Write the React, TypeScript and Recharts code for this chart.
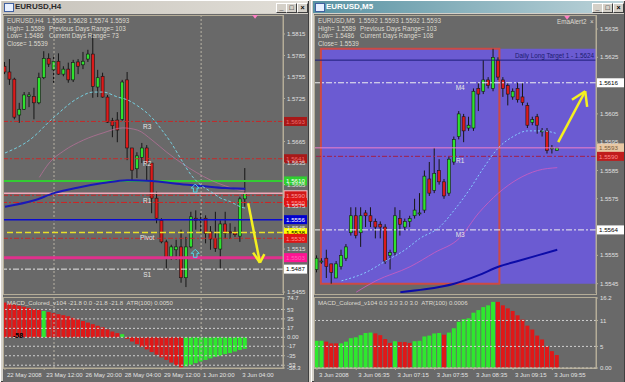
import React from "react";
import {
  ComposedChart,
  Bar,
  Line,
  XAxis,
  YAxis,
  ReferenceLine,
  ReferenceArea,
  ReferenceDot,
  Cell,
} from "recharts";

const FONT = "'Liberation Sans', Arial, sans-serif";
const BG = "#696969";
const FRAME = "#b5ad98";

// ---- EURUSD H4 ----
const h4Open = [1.5770, 1.5762, 1.5752, 1.5702, 1.5710, 1.5728, 1.5728, 1.5719, 1.5754, 1.5781,
  1.5765, 1.5777, 1.5759, 1.5766, 1.5751, 1.5776, 1.5772, 1.5780, 1.5787, 1.5741,
  1.5756, 1.5727, 1.5694, 1.5695, 1.5696, 1.5751, 1.5656, 1.5627, 1.5643, 1.5656,
  1.5635, 1.5586, 1.5555, 1.5525, 1.5504, 1.5514, 1.5518, 1.5475, 1.5518, 1.5558,
  1.5555, 1.5558, 1.5539, 1.5530, 1.5515, 1.5550, 1.5539, 1.5539, 1.5533, 1.5585];
const h4High = [1.5776, 1.5780, 1.5754, 1.5719, 1.5734, 1.5734, 1.5740, 1.5761, 1.5791, 1.5788,
  1.5786, 1.5788, 1.5770, 1.5775, 1.5779, 1.5780, 1.5790, 1.5793, 1.5814, 1.5765,
  1.5761, 1.5730, 1.5698, 1.5706, 1.5751, 1.5762, 1.5656, 1.5650, 1.5663, 1.5660,
  1.5635, 1.5595, 1.5558, 1.5528, 1.5521, 1.5528, 1.5542, 1.5532, 1.5567, 1.5569,
  1.5565, 1.5562, 1.5547, 1.5567, 1.5555, 1.5567, 1.5551, 1.5546, 1.5588, 1.5628];
const h4Low = [1.5759, 1.5744, 1.5696, 1.5691, 1.5709, 1.5713, 1.5696, 1.5717, 1.5752, 1.5769,
  1.5747, 1.5758, 1.5756, 1.5747, 1.5748, 1.5759, 1.5766, 1.5776, 1.5726, 1.5727,
  1.5726, 1.5691, 1.5671, 1.5664, 1.5694, 1.5639, 1.5611, 1.5614, 1.5635, 1.5611,
  1.5565, 1.5551, 1.5523, 1.5486, 1.5500, 1.5500, 1.5468, 1.5462, 1.5516, 1.5542,
  1.5537, 1.5523, 1.5514, 1.5511, 1.5486, 1.5530, 1.5529, 1.5532, 1.5525, 1.5574];
const h4Close = [1.5762, 1.5752, 1.5699, 1.5710, 1.5730, 1.5730, 1.5719, 1.5754, 1.5781, 1.5773,
  1.5777, 1.5759, 1.5766, 1.5751, 1.5775, 1.5770, 1.5777, 1.5787, 1.5742, 1.5754,
  1.5727, 1.5692, 1.5687, 1.5681, 1.5748, 1.5656, 1.5625, 1.5645, 1.5656, 1.5635,
  1.5586, 1.5558, 1.5525, 1.5503, 1.5518, 1.5518, 1.5475, 1.5518, 1.5560, 1.5555,
  1.5556, 1.5537, 1.5529, 1.5516, 1.5550, 1.5537, 1.5538, 1.5535, 1.5585, 1.5593];
const h4Macd = [66, 64, 62, 60, 58, 56, 54, 52, 50, 48,
  46, 44, 42, 40, 37, 34, 31, 28, 25, 22,
  19, 15, 11, 8, 6, -3, -8, -13, -18, -23,
  -28, -33, -38, -43, -48, -53, -58, -55, -52, -49,
  -46, -43, -40, -37, -35, -32, -30, -27, -24, -21.8];
const h4MacdUp = [0, 0, 0, 0, 0, 0, 0, 0, 1, 0, 0, 0, 0, 0, 0, 0, 0, 0, 0, 0, 0, 0, 0, 0, 1,
  0, 0, 0, 0, 0, 0, 0, 0, 0, 0, 0, 0, 1, 1, 1, 1, 1, 1, 1, 1, 1, 1, 1, 1, 1];
const h4FastIdx = [0, 5, 10, 15, 18, 20, 23, 25, 27, 30, 32, 34, 36, 38, 40, 42, 44, 46, 48, 49];
const h4Fast = [1.5649, 1.5667, 1.5699, 1.5726, 1.5734, 1.5734, 1.5727, 1.5723, 1.5715, 1.5698,
  1.5681, 1.5662, 1.5639, 1.5618, 1.5604, 1.5595, 1.5586, 1.5581, 1.5574, 1.5572];
const h4MidIdx = [7, 9, 12, 16, 20, 24, 27, 30, 33, 36, 39, 42, 45, 48, 49];
const h4Mid = [1.5615, 1.5635, 1.5652, 1.5667, 1.5677, 1.5684, 1.5681, 1.5667, 1.5650, 1.5635,
  1.5622, 1.5611, 1.5603, 1.5597, 1.5596];
const h4SlowIdx = [0, 6, 10, 15, 20, 25, 30, 35, 40, 45, 49];
const h4Slow = [1.5574, 1.5583, 1.5593, 1.5601, 1.5607, 1.5611, 1.5610, 1.5606, 1.5603, 1.5600, 1.5599];
const h4LevelPrices = [1.5693, 1.5641, 1.5610, 1.5593, 1.5590, 1.5580, 1.5556, 1.5538, 1.5530, 1.5503, 1.5487];
const h4PivotNames = ["R3", "R2", "R1", "Pivot", "S1"];
const h4PivotPrices = [1.5693, 1.5641, 1.5590, 1.5538, 1.5487];
const h4PriceTicks = [1.5455, 1.5515, 1.5545, 1.5575, 1.5605, 1.5635, 1.5665, 1.5725, 1.5755, 1.5785, 1.5815];
const h4MacdTicks = [74.7, 53, 35, 17, 0, -17, -35, -53, -58.3];
const h4MacdLevels = [53, 35, 17, 0, -17, -35, -53];
const h4TimeIdx = [0, 8, 16, 24, 32, 40, 48];
const h4TimeLabels = ["22 May 2008", "23 May 12:00", "26 May 20:00", "28 May 04:00", "29 May 12:00", "1 Jun 20:00", "3 Jun 04:00"];
const h4Separators = [10, 40];

// ---- EURUSD M5 ----
const m5Open = [1.5550, 1.5553, 1.5554, 1.5552, 1.5547, 1.5551, 1.5554, 1.5563, 1.5569, 1.5563,
  1.5570, 1.5569, 1.5567, 1.5566, 1.5565, 1.5555, 1.5556, 1.5568, 1.5565, 1.5567,
  1.5569, 1.5570, 1.5571, 1.5582, 1.5578, 1.5585, 1.5581, 1.5577, 1.5588, 1.5597,
  1.5604, 1.5600, 1.5600, 1.5614, 1.5613, 1.5617, 1.5614, 1.5624, 1.5617, 1.5615,
  1.5611, 1.5614, 1.5611, 1.5608, 1.5602, 1.5604, 1.5599, 1.5599, 1.5593, 1.5592];
const m5High = [1.5555, 1.5554, 1.5557, 1.5552, 1.5553, 1.5557, 1.5559, 1.5572, 1.5572, 1.5572,
  1.5571, 1.5572, 1.5568, 1.5567, 1.5566, 1.5557, 1.5572, 1.5571, 1.5568, 1.5569,
  1.5575, 1.5577, 1.5585, 1.5588, 1.5593, 1.5589, 1.5582, 1.5590, 1.5597, 1.5606,
  1.5605, 1.5604, 1.5614, 1.5616, 1.5624, 1.5618, 1.5628, 1.5625, 1.5618, 1.5616,
  1.5614, 1.5616, 1.5616, 1.5609, 1.5604, 1.5605, 1.5600, 1.5600, 1.5594, 1.5593];
const m5Low = [1.5549, 1.5552, 1.5547, 1.5545, 1.5547, 1.5550, 1.5553, 1.5562, 1.5561, 1.5558,
  1.5565, 1.5565, 1.5561, 1.5561, 1.5552, 1.5550, 1.5555, 1.5562, 1.5564, 1.5565,
  1.5568, 1.5569, 1.5570, 1.5576, 1.5577, 1.5580, 1.5575, 1.5576, 1.5587, 1.5596,
  1.5595, 1.5599, 1.5599, 1.5606, 1.5612, 1.5614, 1.5613, 1.5617, 1.5611, 1.5608,
  1.5610, 1.5609, 1.5608, 1.5600, 1.5601, 1.5598, 1.5597, 1.5591, 1.5591, 1.5592];
const m5Close = [1.5554, 1.5553, 1.5551, 1.5549, 1.5552, 1.5555, 1.5558, 1.5569, 1.5562, 1.5569,
  1.5569, 1.5567, 1.5565, 1.5565, 1.5553, 1.5556, 1.5569, 1.5566, 1.5567, 1.5568,
  1.5571, 1.5570, 1.5583, 1.5577, 1.5584, 1.5581, 1.5576, 1.5589, 1.5596, 1.5605,
  1.5599, 1.5601, 1.5613, 1.5612, 1.5617, 1.5615, 1.5625, 1.5618, 1.5614, 1.5612,
  1.5613, 1.5610, 1.5609, 1.5601, 1.5603, 1.5601, 1.5599, 1.5592, 1.5593, 1.5593];
const m5Macd = [6.3, 6.3, 6.1, 5.7, 5.7, 5.7, 6.1, 6.9, 7.1, 7.6,
  8.1, 8.2, 8.0, 7.6, 6.7, 5.8, 6.2, 6.0, 6.0, 5.8,
  6.2, 6.3, 7.3, 7.5, 8.0, 8.1, 7.7, 8.2, 9.2, 10.7,
  11.3, 11.5, 12.8, 13.4, 14.1, 14.5, 15.3, 15.3, 14.5, 13.8,
  13.2, 12.2, 11.2, 9.8, 8.9, 7.5, 6.6, 5.0, 3.9, 3.0];
const m5MacdUp = [1, 1, 0, 0, 0, 1, 1, 1, 1, 1, 1, 1, 0, 0, 0, 0, 1, 0, 0, 0, 1, 1, 1, 1, 1,
  1, 0, 1, 1, 1, 1, 1, 1, 1, 1, 1, 1, 0, 0, 0, 0, 0, 0, 0, 0, 0, 0, 0, 0, 0];
const m5FastIdx = [5, 10, 14, 18, 21, 25, 28, 31, 34, 37, 40, 43, 46, 49];
const m5Fast = [1.5546, 1.5549, 1.5553, 1.5557, 1.5561, 1.5565, 1.5571, 1.5578, 1.5586, 1.5593,
  1.5597, 1.5599, 1.5599, 1.5598];
const m5MidIdx = [8, 12, 19, 24, 29, 33, 37, 41, 45, 49];
const m5Mid = [1.5542, 1.5546, 1.5551, 1.5556, 1.5561, 1.5570, 1.5577, 1.5582, 1.5585, 1.5586];
const m5SlowIdx = [17, 22, 28, 33, 37, 41, 45, 49];
const m5Slow = [1.5542, 1.5543, 1.5545, 1.5548, 1.5551, 1.5553, 1.5555, 1.5557];
const m5LevelPrices = [1.5624, 1.5616, 1.5593, 1.5590, 1.5564];
const m5LevelNames = ["", "M4", "", "R1", "M3"];
const m5PriceTicks = [1.5545, 1.5555, 1.5575, 1.5585, 1.5595, 1.5605, 1.5625, 1.5635];
const m5MacdTicks = [16.2, 11, 5, 0];
const m5MacdLevels = [11, 5, 0];
const m5TimeIdx = [0, 8, 16, 24, 32, 40, 48];
const m5TimeLabels = ["3 Jun 2008", "3 Jun 06:35", "3 Jun 07:15", "3 Jun 07:55", "3 Jun 08:35", "3 Jun 09:15", "3 Jun 09:55"];

function buildRows(
  o: number[], h: number[], l: number[], c: number[], macd: number[], up: number[],
  fi: number[], f: number[], mi: number[], m: number[], si: number[], s: number[],
) {
  const rows: any[] = o.map((v, i) => ({
    i, o: v, h: h[i], l: l[i], c: c[i], range: [l[i], h[i]], macd: macd[i], up: up[i] === 1,
    fast: null, mid: null, slow: null,
  }));
  fi.forEach((k, j) => (rows[k].fast = f[j]));
  mi.forEach((k, j) => (rows[k].mid = m[j]));
  si.forEach((k, j) => (rows[k].slow = s[j]));
  return rows;
}

const h4Rows = buildRows(h4Open, h4High, h4Low, h4Close, h4Macd, h4MacdUp, h4FastIdx, h4Fast, h4MidIdx, h4Mid, h4SlowIdx, h4Slow);
const m5Rows = buildRows(m5Open, m5High, m5Low, m5Close, m5Macd, m5MacdUp, m5FastIdx, m5Fast, m5MidIdx, m5Mid, m5SlowIdx, m5Slow);

function Candle(props: any) {
  const { x, y, width, height, payload } = props;
  if (!payload || x == null || y == null) return null;
  const top = Math.min(y, y + height);
  const bot = Math.max(y, y + height);
  const span = payload.h - payload.l;
  const at = (v: number) => (span > 0 ? top + ((payload.h - v) / span) * (bot - top) : top);
  const cx = x + width / 2;
  const up = payload.c >= payload.o;
  const bt = at(Math.max(payload.o, payload.c));
  const bb = at(Math.min(payload.o, payload.c));
  return (
    <g>
      <line x1={cx} x2={cx} y1={top} y2={bot} stroke="#161616" strokeWidth={1} />
      <rect x={cx - 1.5} y={bt} width={3} height={Math.max(bb - bt, 1)}
        fill={up ? "#2ee22e" : "#dc1a1a"} stroke="#161616" strokeWidth={0.6} />
    </g>
  );
}

function tagLabel(text: string, bg: string, fg: string, w: number, border = "none") {
  return (p: any) => {
    const vb = p.viewBox ?? {};
    const x = (vb.x ?? 0) + (vb.width ?? 0) + 1;
    const y = vb.y ?? 0;
    return (
      <g>
        <rect x={x} y={y - 4.5} width={w} height={9} fill={bg} stroke={border} strokeWidth={1} />
        <text x={x + 2} y={y + 2.3} fontSize={6.2} fontFamily={FONT} fill={fg}>{text}</text>
      </g>
    );
  };
}

const textMark = (text: string, dy: number, color = "#e6e6e6") => (p: any) => (
  <text x={p.cx} y={p.cy + dy} fontSize={6.5} fontFamily={FONT} fill={color} textAnchor="middle">{text}</text>
);

const upArrow = (p: any) => (
  <path
    d={`M${p.cx},${p.cy - 4} L${p.cx + 4},${p.cy} L${p.cx + 1.8},${p.cy} L${p.cx + 1.8},${p.cy + 4} L${p.cx - 1.8},${p.cy + 4} L${p.cx - 1.8},${p.cy} L${p.cx - 4},${p.cy} Z`}
    fill="none" stroke="#4fd6e6" strokeWidth={1}
  />
);

const pinkMarker = (p: any) => (
  <path d={`M${p.cx - 3},${p.cy - 2} L${p.cx + 3},${p.cy - 2} L${p.cx},${p.cy + 2} Z`} fill="#ff7fc4" />
);

function timeTick(idx: number[], labels: string[]) {
  return (p: any) => {
    const k = idx.indexOf(p.payload?.value);
    return (
      <text x={p.x + 2} y={p.y + 5} fontSize={6} fontFamily={FONT} fill="#e2e2e2" textAnchor="start">
        {k >= 0 ? labels[k] : ""}
      </text>
    );
  };
}

const axisTick = { fontSize: 6, fill: "#e0e0e0", fontFamily: FONT };

function Window({ left, width, title, active }: { left: number; width: number; title: string; active: boolean }) {
  const btn = (x: number, g: string) => (
    <div style={{
      position: "absolute", left: x, top: 2, width: 9, height: 8, background: "#d4d0c8",
      border: "1px solid", borderColor: "#fff #404040 #404040 #fff", fontSize: 7, lineHeight: "8px",
      textAlign: "center", fontWeight: "bold", color: "#000",
    }}>{g}</div>
  );
  return (
    <div style={{
      position: "absolute", left, top: 0, width, height: 382, background: "#d4d0c8",
      boxShadow: "inset 1px 1px #ffffff, inset -1px -1px #404040",
    }}>
      <div style={{
        position: "absolute", left: 2, top: 1, width: width - 4, height: 12,
        background: active ? "linear-gradient(90deg,#5a93a3,#bcd3d9)" : "linear-gradient(90deg,#c6c2ba,#e2dfd8)",
      }}>
        <div style={{ position: "absolute", left: 2, top: 2, width: 8, height: 7, background: "#e8f0ff", border: "1px solid #4060a0" }} />
        <span style={{
          position: "absolute", left: 13, top: 0, fontSize: 8, lineHeight: "12px", fontWeight: "bold",
          color: active ? "#ffffff" : "#2a2a2a",
        }}>{title}</span>
        {btn(width - 35, "_")}
        {btn(width - 25, "□")}
        {btn(width - 14, "×")}
      </div>
      <div style={{ position: "absolute", left: 3, top: 14, width: width - 4, height: 368, background: BG }} />
    </div>
  );
}

function Header({ left, sym, ohlc, range }: { left: number; sym: string; ohlc: string; range: string }) {
  const s: React.CSSProperties = { position: "absolute", fontSize: 6.3, color: "#dedad0", whiteSpace: "nowrap" };
  return (
    <>
      <span style={{ ...s, left, top: 17 }}>{sym}&nbsp;&nbsp;{ohlc}</span>
      <span style={{ ...s, left, top: 24.5 }}>High= 1.5589</span>
      <span style={{ ...s, left: left + 42, top: 24.5 }}>Previous Days Range= 103</span>
      <span style={{ ...s, left, top: 32 }}>Low= 1.5486</span>
      <span style={{ ...s, left: left + 42, top: 32 }}>Current Days Range= {range}</span>
      <span style={{ ...s, left, top: 39.5 }}>Close= 1.5539</span>
    </>
  );
}

export default function App() {
  const h4Styles = [
    { stroke: "#c42a2a", dash: "5 2 2 2", w: 1, bg: "#a81818", fg: "#e86a6a", tw: 23, bd: "none" },
    { stroke: "#c42a2a", dash: "5 2 2 2", w: 1, bg: "#a81818", fg: "#e86a6a", tw: 23, bd: "none" },
    { stroke: "#33cc33", dash: undefined, w: 2, bg: "#2fd02f", fg: "#ffffff", tw: 23, bd: "none" },
    { stroke: "#f2a6b8", dash: undefined, w: 1.5, bg: "", fg: "", tw: 0, bd: "none" },
    { stroke: "#c42a2a", dash: "5 2 2 2", w: 1, bg: "#d01818", fg: "#ff9a9a", tw: 23, bd: "#f4c0c8" },
    { stroke: "#d02424", dash: "6 2 2 2", w: 1, bg: "#e01414", fg: "#ff9090", tw: 23, bd: "none" },
    { stroke: "#0a0ad0", dash: undefined, w: 1.5, bg: "#0000d0", fg: "#ffffff", tw: 23, bd: "none" },
    { stroke: "#e8e028", dash: "6 3", w: 1.5, bg: "#ffff00", fg: "#000000", tw: 23, bd: "none" },
    { stroke: "#c42a2a", dash: "5 2 2 2", w: 1, bg: "#e01414", fg: "#ff9090", tw: 23, bd: "none" },
    { stroke: "#e0308c", dash: undefined, w: 3, bg: "#ff1493", fg: "#ff62b8", tw: 23, bd: "none" },
    { stroke: "#e8e8e8", dash: "6 2 2 2", w: 1, bg: "#ffffff", fg: "#000000", tw: 23, bd: "none" },
  ];
  const m5Styles = [
    { stroke: "#1c1c78", dash: undefined, w: 1, bg: "", fg: "", tw: 0 },
    { stroke: "#f0f0f0", dash: "6 2 2 2", w: 1, bg: "#ffffff", fg: "#000000", tw: 27 },
    { stroke: "#f080c8", dash: undefined, w: 1, bg: "#e8c8a4", fg: "#7a5a3a", tw: 27 },
    { stroke: "#a0204a", dash: "5 2 2 2", w: 1, bg: "#c01c1c", fg: "#ff8a8a", tw: 27 },
    { stroke: "#f0f0f0", dash: "6 2 2 2", w: 1, bg: "#ffffff", fg: "#000000", tw: 27 },
  ];
  const h4X: [number, number] = [-0.2, 56.7];
  const m5X: [number, number] = [-0.4, 56.9];

  return (
    <div style={{ position: "fixed", left: 0, top: 0, width: 625, height: 382, background: "#d4d0c8", overflow: "hidden", fontFamily: FONT }}>
      <Window left={0} width={309} title="EURUSD,H4" active={false} />
      <Window left={311} width={314} title="EURUSD,M5" active />

      {/* frames */}
      <div style={{ position: "absolute", left: 3, top: 15, width: 281, height: 280, border: `1px solid ${FRAME}`, boxSizing: "border-box" }} />
      <div style={{ position: "absolute", left: 3, top: 297, width: 281, height: 72, border: `1px solid ${FRAME}`, boxSizing: "border-box" }} />
      <div style={{ position: "absolute", left: 314, top: 15, width: 283, height: 280, border: `1px solid ${FRAME}`, boxSizing: "border-box" }} />
      <div style={{ position: "absolute", left: 314, top: 297, width: 283, height: 72, border: `1px solid ${FRAME}`, boxSizing: "border-box" }} />

      {/* H4 price */}
      <div style={{ position: "absolute", left: 3, top: 15 }}>
        <ComposedChart width={305} height={279} data={h4Rows} margin={{ top: 1, right: 0, bottom: 1, left: 1 }}>
          <XAxis dataKey="i" type="number" domain={h4X} hide allowDataOverflow />
          <YAxis orientation="right" width={25} domain={[1.54537, 1.58401]} allowDataOverflow ticks={h4PriceTicks}
            interval={0} tick={axisTick} tickSize={2} tickLine={{ stroke: FRAME }} axisLine={{ stroke: FRAME }}
            tickFormatter={(v: number) => v.toFixed(4)} />
          {h4Separators.map((s) => (
            <ReferenceLine key={"s" + s} x={s} stroke="#b8b2a4" strokeDasharray="2 2" />
          ))}
          {h4LevelPrices.map((p, k) => {
            const st = h4Styles[k];
            return (
              <ReferenceLine key={"l" + k} y={p} stroke={st.stroke} strokeWidth={st.w} strokeDasharray={st.dash}
                label={st.tw ? tagLabel(p.toFixed(4), st.bg, st.fg, st.tw, st.bd) : undefined} />
            );
          })}
          <Line dataKey="mid" type="monotone" stroke="#b8709a" strokeOpacity={0.75} strokeWidth={1} dot={false} connectNulls isAnimationActive={false} />
          <Line dataKey="slow" type="monotone" stroke="#1a1ab8" strokeWidth={2} dot={false} connectNulls isAnimationActive={false} />
          <Line dataKey="fast" type="monotone" stroke="#76cede" strokeDasharray="3 2" strokeWidth={1} dot={false} connectNulls isAnimationActive={false} />
          <Bar dataKey="range" barSize={4} isAnimationActive={false} shape={(p: any) => <Candle {...p} />} />
          {h4PivotNames.map((n, k) => (
            <ReferenceDot key={"p" + n} x={29} y={h4PivotPrices[k]} r={0} shape={textMark(n, 7.5)} />
          ))}
          <ReferenceDot x={38.8} y={1.5600} r={0} shape={upArrow} />
          <ReferenceDot x={38.8} y={1.5509} r={0} shape={upArrow} />
          <ReferenceDot x={51} y={1.5839} r={0} shape={pinkMarker} />
          <ReferenceLine segment={[{ x: 49.6, y: 1.5579 }, { x: 52, y: 1.5496 }]} stroke="#f4f020" strokeWidth={2.5} />
          <ReferenceLine segment={[{ x: 50.6, y: 1.5510 }, { x: 52, y: 1.5496 }]} stroke="#f4f020" strokeWidth={2.5} />
          <ReferenceLine segment={[{ x: 52.9, y: 1.5508 }, { x: 52, y: 1.5496 }]} stroke="#f4f020" strokeWidth={2.5} />
        </ComposedChart>
      </div>

      {/* H4 MACD */}
      <div style={{ position: "absolute", left: 3, top: 291 }}>
        <ComposedChart width={305} height={91} data={h4Rows} margin={{ top: 7, right: 0, bottom: 1, left: 1 }}>
          <XAxis dataKey="i" type="number" domain={h4X} allowDataOverflow ticks={h4TimeIdx} interval={0} height={13}
            tickSize={2} tickLine={{ stroke: FRAME }} axisLine={{ stroke: FRAME }} tick={timeTick(h4TimeIdx, h4TimeLabels)} />
          <YAxis orientation="right" width={25} domain={[-58.3, 74.7]} allowDataOverflow ticks={h4MacdTicks} interval={0}
            tick={axisTick} tickSize={2} tickLine={{ stroke: FRAME }} axisLine={{ stroke: FRAME }}
            tickFormatter={(v: number) => (v === 0 ? "0.00" : String(v))} />
          {h4MacdLevels.map((v) => (
            <ReferenceLine key={"g" + v} y={v} stroke="#d0d0d0" strokeDasharray="2 2" />
          ))}
          {h4Separators.map((s) => (
            <ReferenceLine key={"s" + s} x={s} stroke="#b8b2a4" strokeDasharray="2 2" />
          ))}
          <Bar dataKey="macd" barSize={4} isAnimationActive={false}>
            {h4Rows.map((r, k) => (
              <Cell key={k} fill={r.up ? "#2ee82e" : "#e01818"} />
            ))}
          </Bar>
        </ComposedChart>
      </div>

      {/* M5 price */}
      <div style={{ position: "absolute", left: 314, top: 15 }}>
        <ComposedChart width={311} height={279} data={m5Rows} margin={{ top: 1, right: 0, bottom: 1, left: 1 }}>
          <XAxis dataKey="i" type="number" domain={m5X} hide allowDataOverflow />
          <YAxis orientation="right" width={29} domain={[1.55417, 1.56396]} allowDataOverflow ticks={m5PriceTicks}
            interval={0} tick={axisTick} tickSize={2} tickLine={{ stroke: FRAME }} axisLine={{ stroke: FRAME }}
            tickFormatter={(v: number) => v.toFixed(4)} />
          <ReferenceArea x1={0.8} x2={56.9} y1={1.5545} y2={1.5628} fill="#6b5bd2" fillOpacity={1} stroke="none" />
          {m5LevelPrices.map((p, k) => {
            const st = m5Styles[k];
            return (
              <ReferenceLine key={"l" + k} y={p} stroke={st.stroke} strokeWidth={st.w} strokeDasharray={st.dash}
                label={st.tw ? tagLabel(p.toFixed(4), st.bg, st.fg, st.tw) : (pp: any) => {
                  const vb = pp.viewBox ?? {};
                  return (
                    <text x={(vb.x ?? 0) + (vb.width ?? 0) - 2} y={(vb.y ?? 0) - 2} fontSize={6.3} fontFamily={FONT}
                      fill="#1c1c70" textAnchor="end">{"Daily Long Target 1 - " + p.toFixed(4)}</text>
                  );
                }} />
            );
          })}
          <ReferenceArea x1={0.8} x2={37.2} y1={1.5545} y2={1.5628} fill="none" stroke="#cc4a44" strokeWidth={2} />
          <Line dataKey="mid" type="monotone" stroke="#d05cc0" strokeOpacity={0.8} strokeWidth={1} dot={false} connectNulls isAnimationActive={false} />
          <Line dataKey="slow" type="monotone" stroke="#0c0ca8" strokeWidth={2} dot={false} connectNulls isAnimationActive={false} />
          <Line dataKey="fast" type="monotone" stroke="#86ccff" strokeDasharray="2 2" strokeWidth={1} dot={false} connectNulls isAnimationActive={false} />
          <Bar dataKey="range" barSize={4} isAnimationActive={false} shape={(p: any) => <Candle {...p} />} />
          {m5LevelNames.map((n, k) => (n ? (
            <ReferenceDot key={"n" + k} x={29.2} y={m5LevelPrices[k]} r={0} shape={textMark(n, 7)} />
          ) : null))}
          <ReferenceDot x={51} y={1.5639} r={0} shape={pinkMarker} />
          <ReferenceLine segment={[{ x: 49.2, y: 1.5595 }, { x: 54.7, y: 1.5613 }]} stroke="#f4f020" strokeWidth={2.5} />
          <ReferenceLine segment={[{ x: 52, y: 1.5610 }, { x: 54.7, y: 1.5613 }]} stroke="#f4f020" strokeWidth={2.5} />
          <ReferenceLine segment={[{ x: 55.1, y: 1.56075 }, { x: 54.7, y: 1.5613 }]} stroke="#f4f020" strokeWidth={2.5} />
        </ComposedChart>
      </div>

      {/* M5 MACD */}
      <div style={{ position: "absolute", left: 314, top: 291 }}>
        <ComposedChart width={311} height={91} data={m5Rows} margin={{ top: 7, right: 0, bottom: 1, left: 1 }}>
          <XAxis dataKey="i" type="number" domain={m5X} allowDataOverflow ticks={m5TimeIdx} interval={0} height={13}
            tickSize={2} tickLine={{ stroke: FRAME }} axisLine={{ stroke: FRAME }} tick={timeTick(m5TimeIdx, m5TimeLabels)} />
          <YAxis orientation="right" width={29} domain={[0, 16.2]} allowDataOverflow ticks={m5MacdTicks} interval={0}
            tick={axisTick} tickSize={2} tickLine={{ stroke: FRAME }} axisLine={{ stroke: FRAME }}
            tickFormatter={(v: number) => (v === 0 ? "0.00" : String(v))} />
          {m5MacdLevels.map((v) => (
            <ReferenceLine key={"g" + v} y={v} stroke="#d0d0d0" strokeDasharray="2 2" />
          ))}
          <Bar dataKey="macd" barSize={4} isAnimationActive={false}>
            {m5Rows.map((r, k) => (
              <Cell key={k} fill={r.up ? "#2ee82e" : "#e01818"} />
            ))}
          </Bar>
        </ComposedChart>
      </div>

      {/* text overlays */}
      <Header left={7} sym="EURUSD,H4" ohlc="1.5585 1.5628 1.5574 1.5593" range="73" />
      <Header left={318} sym="EURUSD,M5" ohlc="1.5592 1.5593 1.5592 1.5593" range="108" />
      <span style={{ position: "absolute", left: 557, top: 18, fontSize: 6.3, color: "#dedad0" }}>EmaAlert2&nbsp;&nbsp;×</span>
      <span style={{ position: "absolute", left: 7, top: 299, fontSize: 6.1, color: "#dedad0", whiteSpace: "nowrap" }}>
        MACD_Colored_v104 -21.8 0.0 -21.8 -21.8&nbsp;&nbsp;ATR(100) 0.0050
      </span>
      <span style={{ position: "absolute", left: 318, top: 299, fontSize: 6.1, color: "#dedad0", whiteSpace: "nowrap" }}>
        MACD_Colored_v104 0.0 3.0 3.0 3.0&nbsp;&nbsp;ATR(100) 0.0006
      </span>
      <span style={{ position: "absolute", left: 13, top: 332, fontSize: 7, fontWeight: "bold", color: "#000" }}>-58</span>
    </div>
  );
}
